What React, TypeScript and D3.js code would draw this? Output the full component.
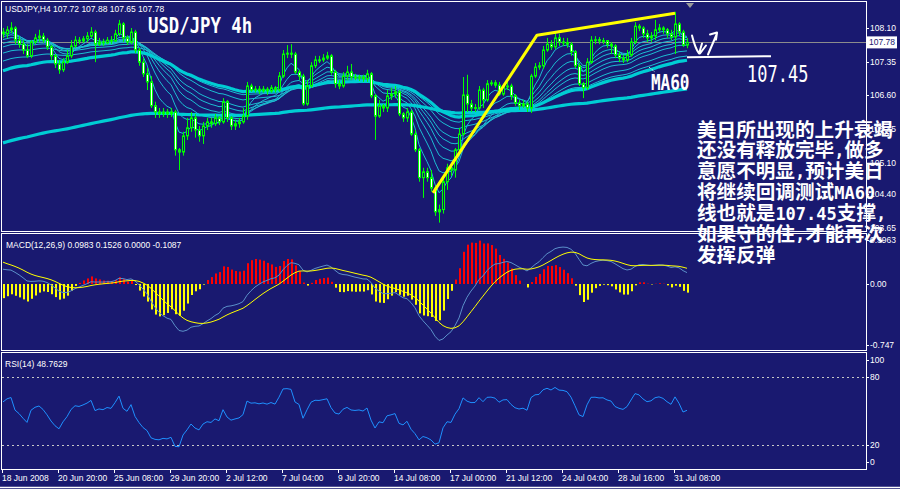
import React from "react";
import * as d3 from "d3";

// ---------- DATA (USDJPY H4, 18 Jun 2008 – 31 Jul 2008) ----------
const opens = [
  108.01,107.97,108.06,108.10,107.83,107.74,107.61,107.48,107.79,107.88,
  107.92,107.83,107.68,107.48,107.30,107.17,107.34,107.48,107.70,107.83,
  107.81,107.86,107.92,108.01,107.74,107.79,107.77,107.83,107.81,107.97,
  108.19,107.88,107.79,108.01,107.61,107.34,107.08,106.90,106.37,106.23,
  106.19,106.23,106.19,106.23,105.39,105.34,105.70,105.88,106.10,105.83,
  105.70,105.92,106.01,105.97,106.10,106.01,106.46,106.10,105.92,105.97,
  106.01,106.14,106.81,106.72,106.74,106.70,106.74,106.70,106.77,106.72,
  107.03,107.52,107.54,107.52,107.12,107.03,106.41,106.81,107.26,107.39,
  107.39,107.43,107.48,107.12,106.86,106.81,107.03,107.12,107.01,106.99,
  107.01,106.97,107.08,106.59,106.14,106.37,106.32,106.59,106.63,106.68,
  106.19,106.10,106.23,105.74,105.39,104.77,104.90,104.77,104.54,104.01,
  104.06,104.68,104.99,104.94,105.39,105.74,106.61,106.41,106.32,106.32,
  106.72,106.50,106.86,106.88,106.83,106.63,106.79,106.81,106.59,106.43,
  106.37,106.41,106.32,107.03,107.23,107.26,107.61,107.74,107.68,107.88,
  107.79,107.78,107.74,107.57,107.26,106.86,106.77,107.34,107.83,107.84,
  107.81,107.82,107.74,107.70,107.50,107.43,107.39,107.50,107.79,108.14,
  108.10,107.97,107.88,107.92,108.06,108.10,108.06,107.97,107.90,108.19,
  108.01,107.72,
];
const highs = [
  108.10,108.14,108.23,108.14,107.92,107.83,107.74,107.83,107.97,108.06,
  107.99,107.88,107.72,107.52,107.39,107.43,107.61,107.83,107.92,107.90,
  107.92,108.01,108.12,108.06,107.88,107.86,107.90,107.92,108.06,108.28,
  108.23,107.94,108.10,108.06,107.66,107.43,107.21,107.03,106.46,106.32,
  106.32,106.30,106.32,106.28,105.43,105.79,106.10,106.23,106.19,105.92,
  106.01,106.10,106.10,106.19,106.14,106.54,106.50,106.14,106.06,106.10,
  106.32,106.90,106.86,106.81,106.81,106.81,106.79,106.83,106.81,107.12,
  107.61,107.72,107.74,107.57,107.17,107.08,106.94,107.34,107.48,107.48,
  107.52,107.57,107.52,107.17,106.94,107.12,107.26,107.30,107.08,107.06,
  107.06,107.17,107.12,106.63,106.50,106.41,106.72,106.77,106.81,106.72,
  106.23,106.32,106.28,105.83,105.43,104.99,104.99,104.94,104.59,104.17,
  104.77,105.08,105.08,105.43,105.88,107.01,107.06,106.50,106.41,106.81,
  106.77,106.94,106.94,106.94,106.90,106.86,106.90,106.86,106.63,106.50,
  106.50,106.46,107.08,107.32,107.34,107.70,107.88,107.83,107.99,107.97,
  107.88,107.88,107.79,107.61,107.32,106.90,107.43,107.92,107.92,107.90,
  107.88,107.83,107.79,107.74,107.57,107.50,107.61,107.88,108.23,108.19,
  108.14,108.06,108.01,108.28,108.19,108.14,108.10,108.06,108.46,108.23,
  108.06,107.88,
];
const lows = [
  107.88,107.88,107.99,107.74,107.66,107.52,107.43,107.43,107.74,107.79,
  107.77,107.61,107.39,107.21,107.08,107.12,107.30,107.43,107.66,107.74,
  107.77,107.79,107.88,107.34,107.70,107.70,107.74,107.74,107.79,107.92,
  107.79,107.72,107.74,107.54,107.26,107.01,106.72,106.32,106.10,106.10,
  106.12,106.10,106.12,105.26,104.94,105.26,105.61,105.79,105.66,105.57,
  105.52,105.83,105.88,105.92,105.94,105.97,106.01,105.83,105.83,105.88,
  105.97,106.06,106.68,106.66,106.63,106.66,106.61,106.66,106.66,106.68,
  106.99,107.43,107.43,107.08,106.94,106.37,106.37,106.77,107.21,107.32,
  107.34,107.39,107.06,106.77,106.74,106.77,106.94,106.94,106.94,106.92,
  106.90,106.90,106.54,105.61,106.10,106.23,106.23,106.50,106.54,106.14,
  106.01,106.01,105.70,105.34,104.68,104.32,104.68,104.46,103.92,103.77,
  103.97,104.50,104.81,104.77,105.34,105.70,106.23,106.23,106.23,106.28,
  106.32,106.46,106.81,106.77,106.59,106.59,106.72,106.50,106.37,106.28,
  106.32,106.23,106.21,106.99,107.17,107.19,107.57,107.61,107.63,107.70,
  107.70,107.66,107.48,107.21,106.81,106.54,106.72,107.30,107.74,107.74,
  107.74,107.66,107.52,107.43,107.34,107.32,107.34,107.46,107.74,108.03,
  107.88,107.79,107.79,107.83,108.01,107.97,107.88,107.83,107.52,107.92,
  107.68,107.65,
];
const closes = [
  107.97,108.06,108.10,107.83,107.74,107.61,107.48,107.79,107.88,107.92,
  107.83,107.68,107.48,107.30,107.17,107.34,107.48,107.70,107.83,107.81,
  107.86,107.92,108.01,107.74,107.79,107.77,107.83,107.81,107.97,108.19,
  107.88,107.79,108.01,107.61,107.34,107.08,106.90,106.37,106.23,106.19,
  106.23,106.19,106.23,105.39,105.34,105.70,105.88,106.10,105.83,105.70,
  105.92,106.01,105.97,106.10,106.01,106.46,106.10,105.92,105.97,106.01,
  106.14,106.81,106.72,106.74,106.70,106.74,106.70,106.77,106.72,107.03,
  107.52,107.54,107.52,107.12,107.03,106.41,106.81,107.26,107.39,107.38,
  107.43,107.48,107.12,106.86,106.81,107.03,107.12,107.01,106.99,107.01,
  106.97,107.08,106.59,106.14,106.37,106.32,106.59,106.63,106.68,106.19,
  106.10,106.23,105.74,105.39,104.77,104.90,104.77,104.54,104.01,104.06,
  104.68,104.99,104.94,105.39,105.74,106.61,106.41,106.32,106.33,106.72,
  106.50,106.86,106.88,106.83,106.63,106.79,106.81,106.59,106.43,106.37,
  106.41,106.32,107.03,107.23,107.26,107.61,107.74,107.68,107.88,107.79,
  107.78,107.74,107.57,107.26,106.86,106.77,107.34,107.83,107.84,107.81,
  107.82,107.74,107.70,107.50,107.43,107.39,107.50,107.79,108.14,108.10,
  107.97,107.88,107.92,108.06,108.10,108.06,107.97,107.90,108.19,108.01,
  107.72,107.78,
];

// Moving-average ribbon: periods and the values the lines start from at the left edge
const ribbonPeriods = [5, 10, 15, 20, 25, 30, 40, 50];
const ribbonStart = [108.0, 107.95, 107.9, 107.83, 107.74, 107.66, 107.52, 107.34];
const thickPeriods = [60, 200];
const thickStart = [107.12, 105.52];

// MACD(12,26,9) and RSI(14) starting states read from the left edge
const macdStart = { fast: 107.98, slow: 107.79, signal: 0.28 };
const rsiStart = { gain: 0.058, loss: 0.042 };

const priceTicks = [108.1, 107.35, 106.6, 105.85, 105.1, 104.4, 103.65];
const macdTicks = [0.3963, 0, -0.747];
const macdTickText = ["0.3963", "0.00", "-0.747"];
const rsiTicks = [100, 80, 20, 0];
const rsiLevels = [80, 20];
const timeLabels = [
  "18 Jun 2008", "20 Jun 20:00", "25 Jun 08:00", "29 Jun 20:00", "2 Jul 12:00",
  "7 Jul 04:00", "9 Jul 20:00", "14 Jul 08:00", "17 Jul 00:00", "21 Jul 12:00",
  "24 Jul 04:00", "28 Jul 16:00", "31 Jul 08:00",
];
const timeLabelBars = [0, 14, 28, 42, 56, 70, 84, 98, 112, 126, 140, 154, 168];
const lastPrice = 107.78;
const trendPoints = [
  { bar: 107.5, price: 104.43 },
  { bar: 133.5, price: 107.94 },
  { bar: 168, price: 108.43 },
];
const support = { price: 107.45, from: 171, to: 192, label: "107.45" };
const noteLines = [
  "美日所出现的上升衰竭",
  "还没有释放完毕,做多",
  "意愿不明显,预计美日",
  "将继续回调测试MA60",
  "线也就是107.45支撑,",
  "如果守的住,才能再次",
  "发挥反弹",
];

// ---------- helpers ----------
function ema(src: number[], period: number, start: number) {
  const a = 2 / (period + 1);
  let e = start;
  return src.map((v) => (e = e + a * (v - e)));
}

const BG = "#191970";
const SMALL = "'Liberation Sans', Arial, sans-serif";
const MONO = "'DejaVu Sans Mono', monospace";
const CJK = "'Noto Sans CJK SC', sans-serif";

export default function App() {
  const x = d3.scaleLinear().domain([0, 1]).range([3, 7]);
  const yMain = d3.scaleLinear().domain([103.65, 108.1]).range([228, 28]);
  const yMacd = d3.scaleLinear().domain([-0.747, 0]).range([347, 284]);
  const yRsi = d3.scaleLinear().domain([20, 80]).range([445, 377]);

  const L = 2, R = 866;
  const main = { top: 2, bottom: 231 };
  const mw = { top: 234, bottom: 350 };
  const rw = { top: 353, bottom: 469 };

  const ribbons = ribbonPeriods.map((p, k) => ema(closes, p, ribbonStart[k]));
  const thicks = thickPeriods.map((p, k) => ema(closes, p, thickStart[k]));

  const e12 = ema(closes, 12, macdStart.fast);
  const e26 = ema(closes, 26, macdStart.slow);
  const macd = e12.map((v, i) => v - e26[i]);
  const signal = ema(macd, 9, macdStart.signal);
  const hist = macd.map((v, i) => 2 * (v - signal[i]));

  let ag = rsiStart.gain, al = rsiStart.loss;
  const rsi = closes.map((c, i) => {
    if (i > 0) {
      const d = c - closes[i - 1];
      ag = (ag * 13 + Math.max(d, 0)) / 14;
      al = (al * 13 + Math.max(-d, 0)) / 14;
    }
    return 100 - 100 / (1 + ag / al);
  });

  const lineMain = d3.line<number>().x((_, i) => x(i)).y((d) => yMain(d));
  const lineMacd = d3.line<number>().x((_, i) => x(i)).y((d) => yMacd(d));
  const lineRsi = d3.line<number>().x((_, i) => x(i)).y((d) => yRsi(d));
  const trendLine = d3.line<{ bar: number; price: number }>().x((d) => x(d.bar)).y((d) => yMain(d.price));

  const clamp = (v: number, lo: number, hi: number) => Math.max(lo, Math.min(hi, v));

  const renderNote = (line: string) =>
    line.split(/([\x00-\x7F]+)/).filter((s) => s.length).map((s, k) =>
      /^[\x00-\x7F]+$/.test(s) ? (
        <tspan key={k} fontFamily={MONO} fontSize={17} fontWeight="bold">{s}</tspan>
      ) : (
        <tspan key={k} fontFamily={CJK} fontSize={19.6} fontWeight="bold">{s}</tspan>
      )
    );

  const sx = x(support.from), sy = yMain(support.price);
  const ax = x(172.5), ay = yMain(108.0);

  // MT4 pins the window's max / min labels to the window edges
  const macdLabelY = (k: number) =>
    k === 0 ? mw.top + 6 : k === macdTicks.length - 1 ? mw.bottom - 5 : yMacd(macdTicks[k]);

  return (
    <div style={{ position: "absolute", left: 0, top: 0, width: 900, height: 489 }}>
      <style>{"body{margin:0;background:" + BG + ";}"}</style>
      <svg width={900} height={489} style={{ display: "block" }}>
        <defs>
          <clipPath id="clipMain"><rect x={L} y={main.top} width={R - L} height={main.bottom - main.top} /></clipPath>
          <clipPath id="clipMacd"><rect x={L} y={mw.top} width={R - L} height={mw.bottom - mw.top} /></clipPath>
          <clipPath id="clipRsi"><rect x={L} y={rw.top} width={R - L} height={rw.bottom - rw.top} /></clipPath>
        </defs>
        <rect x={0} y={0} width={900} height={489} fill={BG} />

        {/* ---------- main window ---------- */}
        <g clipPath="url(#clipMain)">
          <line x1={L} x2={R} y1={Math.round(yMain(lastPrice)) + 0.5} y2={Math.round(yMain(lastPrice)) + 0.5} stroke="#8c8c8c" strokeWidth={1} />
          {ribbons.map((r, k) => (
            <path key={"r" + k} d={lineMain(r) || ""} fill="none" stroke="#1cbdd2" strokeWidth={1} />
          ))}
          {thicks.map((r, k) => (
            <path key={"t" + k} d={lineMain(r) || ""} fill="none" stroke="#00cdd4" strokeWidth={3.2} />
          ))}
          {closes.map((c, i) => {
            const o = opens[i];
            const cx = x(i) + 0.5;
            const bull = c >= o;
            const yt = yMain(Math.max(o, c));
            const yb = yMain(Math.min(o, c));
            const h = Math.max(1, yb - yt);
            return (
              <g key={"c" + i}>
                <line x1={cx} x2={cx} y1={yMain(highs[i])} y2={yMain(lows[i])} stroke="#00ff00" strokeWidth={1} />
                <rect x={cx - 1} y={yt} width={2} height={h} fill={bull ? BG : "#ffffff"} stroke="#00ff00" strokeWidth={1} />
              </g>
            );
          })}
          <path d={trendLine(trendPoints) || ""} fill="none" stroke="#ffff00" strokeWidth={3} strokeLinejoin="round" />
          <line x1={sx} x2={x(support.to)} y1={sy} y2={sy - 1} stroke="#ffffff" strokeWidth={2} />
          <path d={`M${ax - 1},${ay + 3} C${ax + 1},${ay + 11} ${ax + 3},${ay + 17} ${ax + 6},${ay + 21} L${ax + 9},${ay + 11} M${ax + 7},${ay + 21} L${ax + 13},${ay + 13} M${ax + 15},${ay + 22} L${ax + 24},${ay + 1} M${ax + 17},${ay + 2} L${ax + 24},${ay} L${ax + 23},${ay + 7}`}
            fill="none" stroke="#ffffff" strokeWidth={2} strokeLinecap="round" strokeLinejoin="round" />
          <line x1={x(161.5)} y1={yMain(107.23)} x2={x(163)} y2={yMain(107.12)} stroke="#ffffff" strokeWidth={1} strokeDasharray="1,1" />
        </g>
        <text x={5} y={12} fill="#ffffff" fontFamily={SMALL} fontSize={8.5}>USDJPY,H4  107.72 107.88 107.65 107.78</text>
        <text transform="translate(148,33) scale(1,1.2)" fill="#ffffff" fontFamily={MONO} fontSize={17.3} fontWeight="bold">USD/JPY 4h</text>
        <text transform={`translate(${x(162)},90) scale(1,1.28)`} fill="#ffffff" fontFamily={MONO} fontSize={16} fontWeight="bold">MA60</text>
        <text transform={`translate(${x(186)},${sy + 24.5}) scale(1,1.35)`} fill="#ffffff" fontFamily={MONO} fontSize={17}>{support.label}</text>
        {/* shift marker */}
        <path d="M686,3 L694,3 L690,8 Z" fill="#9a9a9a" />

        {/* ---------- MACD window ---------- */}
        <g clipPath="url(#clipMacd)">
          {hist.map((h, i) => (
            <rect key={"h" + i} x={x(i)} width={2} y={Math.min(yMacd(h), yMacd(0))} height={Math.abs(yMacd(h) - yMacd(0))}
              fill={h >= 0 ? "#ff0000" : "#ffff00"} />
          ))}
          <path d={lineMacd(macd) || ""} fill="none" stroke="#5b8fc9" strokeWidth={1} />
          <path d={lineMacd(signal) || ""} fill="none" stroke="#ffff00" strokeWidth={1} />
        </g>
        <text x={6} y={248} fill="#ffffff" fontFamily={SMALL} fontSize={8.5}>MACD(12,26,9) 0.0983 0.1526 0.0000 -0.1087</text>

        {/* ---------- RSI window ---------- */}
        <g clipPath="url(#clipRsi)">
          {rsiLevels.map((v) => (
            <line key={"lv" + v} x1={L} x2={R} y1={Math.round(yRsi(v)) + 0.5} y2={Math.round(yRsi(v)) + 0.5} stroke="#c8c8c8" strokeWidth={1} strokeDasharray="2,3" />
          ))}
          <path d={lineRsi(rsi) || ""} fill="none" stroke="#1e90ff" strokeWidth={1} />
        </g>
        <text x={5} y={367} fill="#ffffff" fontFamily={SMALL} fontSize={8.5}>RSI(14) 48.7629</text>

        {/* ---------- frames ---------- */}
        {[main, mw, rw].map((w, k) => (
          <rect key={"f" + k} x={L - 0.5} y={w.top - 0.5} width={R - L + 1} height={w.bottom - w.top + 1} fill="none" stroke="#ffffff" strokeWidth={1} />
        ))}
        <line x1={0} x2={900} y1={487.5} y2={487.5} stroke="#ffffff" strokeWidth={1.5} />

        {/* ---------- right axes ---------- */}
        {priceTicks.map((v) => (
          <g key={"p" + v}>
            <line x1={R} x2={R + 3} y1={Math.round(yMain(v)) + 0.5} y2={Math.round(yMain(v)) + 0.5} stroke="#ffffff" />
            <text x={R + 4} y={yMain(v) + 3} fill="#ffffff" fontFamily={SMALL} fontSize={8.5}>{v.toFixed(2)}</text>
          </g>
        ))}
        <rect x={R + 1} y={yMain(lastPrice) - 6} width={30} height={12} fill="#ffffff" />
        <text x={R + 3} y={yMain(lastPrice) + 3} fill={BG} fontFamily={SMALL} fontSize={8.5}>{lastPrice.toFixed(2)}</text>
        {macdTicks.map((v, k) => {
          const yy = macdLabelY(k);
          return (
            <g key={"m" + k}>
              <line x1={R} x2={R + 3} y1={Math.round(yy) + 0.5} y2={Math.round(yy) + 0.5} stroke="#ffffff" />
              <text x={R + 4} y={yy + 3} fill="#ffffff" fontFamily={SMALL} fontSize={8.5}>{macdTickText[k]}</text>
            </g>
          );
        })}
        {rsiTicks.map((v) => {
          const yy = clamp(yRsi(v), rw.top + 7, rw.bottom - 7);
          return (
            <g key={"q" + v}>
              <line x1={R} x2={R + 3} y1={Math.round(yy) + 0.5} y2={Math.round(yy) + 0.5} stroke="#ffffff" />
              <text x={R + 4} y={yy + 3} fill="#ffffff" fontFamily={SMALL} fontSize={8.5}>{v}</text>
            </g>
          );
        })}

        {/* ---------- time axis ---------- */}
        {timeLabels.map((t, k) => {
          const tx = x(timeLabelBars[k]);
          return (
            <g key={"tl" + k}>
              <line x1={tx - 0.5} x2={tx - 0.5} y1={rw.bottom} y2={rw.bottom + 4} stroke="#ffffff" />
              <text x={tx - 1} y={481} fill="#ffffff" fontFamily={SMALL} fontSize={8.5}>{t}</text>
            </g>
          );
        })}

        {/* ---------- annotation text ---------- */}
        {noteLines.map((ln, k) => (
          <text key={"n" + k} x={697} y={136.5 + k * 20.9} fill="#ffffff">{renderNote(ln)}</text>
        ))}
      </svg>
    </div>
  );
}
